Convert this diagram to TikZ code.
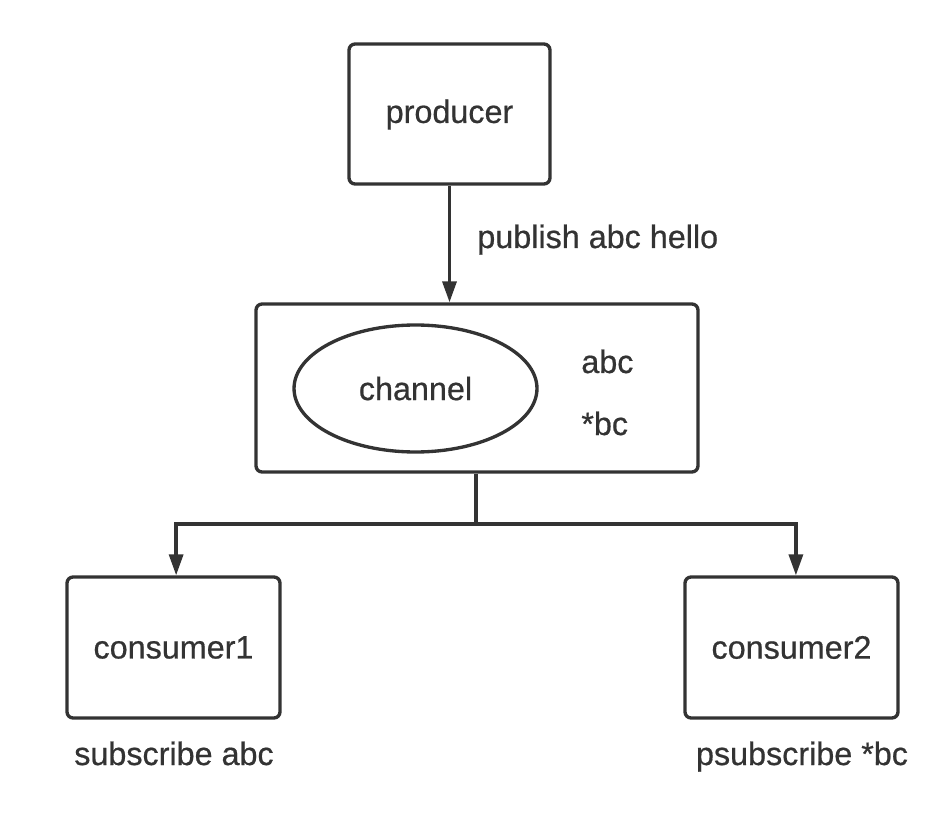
\documentclass[tikz,border=0pt]{standalone}
\usepackage{fontspec}
\setmainfont{Liberation Sans}[FakeBold=0.6]
\usetikzlibrary{arrows.meta,shapes.geometric}
\definecolor{inkgray}{HTML}{333333}

\begin{document}
\begin{tikzpicture}[x=0.02cm,y=-0.02cm,font=\fontsize{18.4}{22}\selectfont,
    every node/.style={text=inkgray}]
  \tikzstyle{box}=[draw=inkgray,line width=1.9pt,rounded corners=3.4pt,inner sep=0pt]
  \tikzstyle{link}=[draw=inkgray,line width=1.9pt,-{Triangle[length=12pt,width=8pt]}]
  \useasboundingbox (0,0) rectangle (952,820);
  \node[box,minimum width=4.02cm,minimum height=2.8cm,text depth=0.6ex] (prod) at (449.5,114) {producer};
  \node[box,minimum width=8.84cm,minimum height=3.36cm] (chan) at (477,388) {};
  \node[ellipse,draw=inkgray,line width=1.9pt,minimum width=4.86cm,minimum height=2.54cm,inner sep=0pt] (pool) at (415.5,388.5) {channel};
  \node[anchor=base west,inner sep=0pt] (t_1) at (581,373) {abc};
  \node[anchor=base west,inner sep=0pt] (t_2) at (581,435) {*bc};
  \node[box,minimum width=4.26cm,minimum height=2.82cm] (cons_1) at (173.5,647.5) {consumer1};
  \node[box,minimum width=4.26cm,minimum height=2.82cm] (cons_2) at (791.5,647.5) {consumer2};
  \node[anchor=base west,inner sep=0pt] (pub) at (477,248) {publish abc hello};
  \node[anchor=base,inner sep=0pt] (sub_1) at (174,765) {subscribe abc};
  \node[anchor=base,inner sep=0pt] (sub_2) at (802,765) {psubscribe *bc};
  \coordinate (split) at (476,524);
  \draw[link] (prod.south) -- (prod.south |- chan.north);
  \draw[draw=inkgray,line width=1.9pt] (split |- chan.south) -- (split);
  \draw[link] (split) -| ([xshift=1.5]cons_1.north);
  \draw[link] (split) -| ([xshift=2.5]cons_2.north);
\end{tikzpicture}
\end{document}
